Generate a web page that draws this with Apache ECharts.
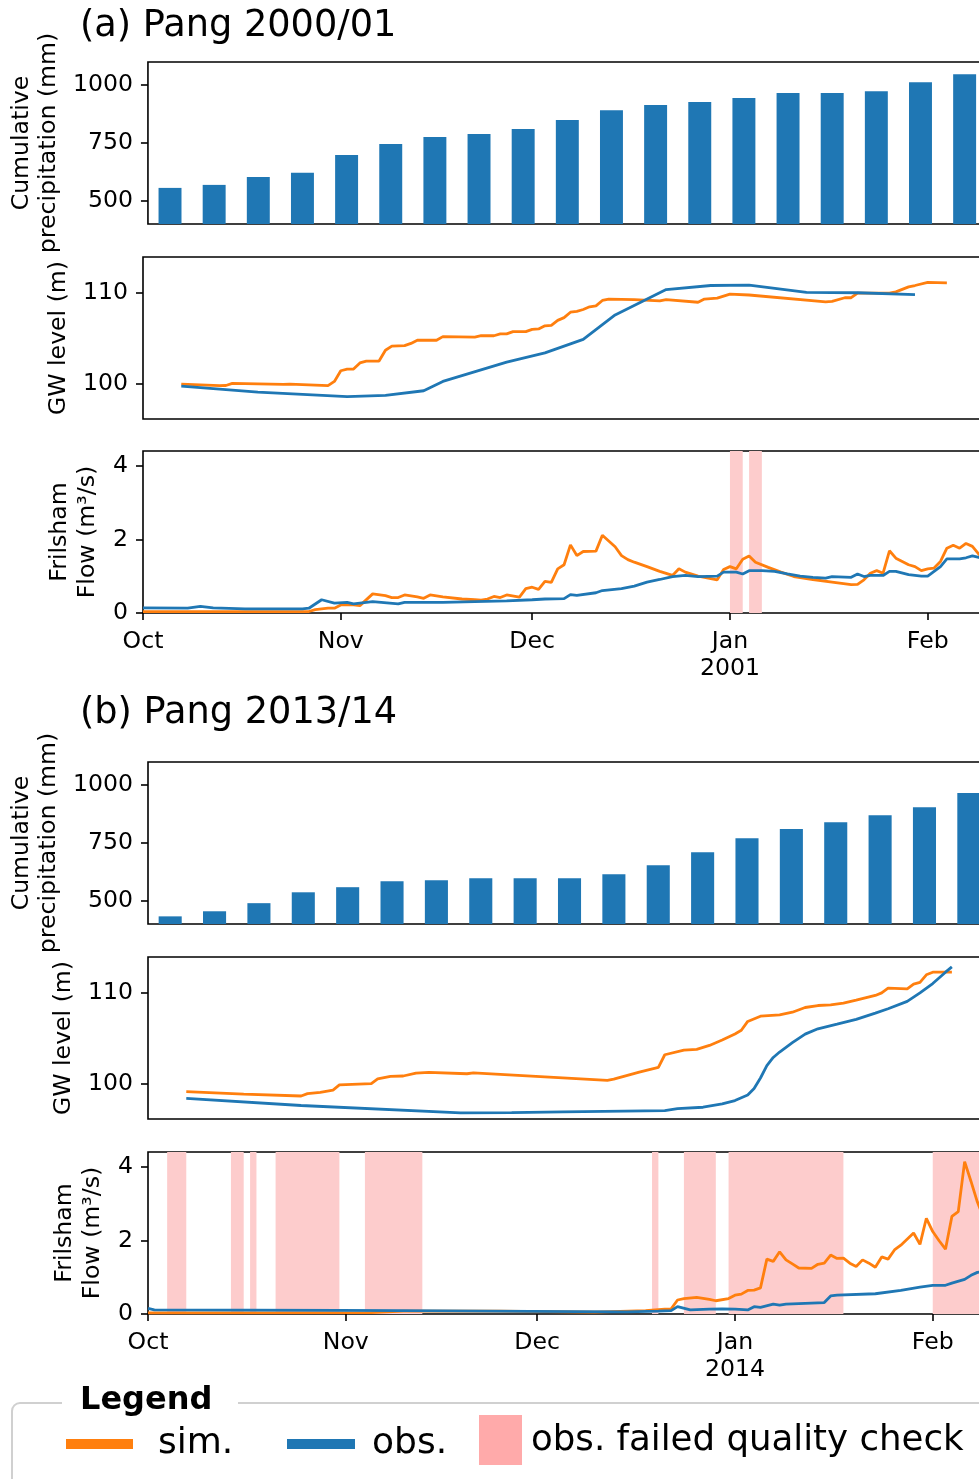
<!DOCTYPE html>
<html>
<head>
<meta charset="utf-8">
<script src="https://cdn.jsdelivr.net/npm/echarts@6/dist/echarts.min.js"></script>
<style>
html,body{margin:0;padding:0;overflow:hidden;background:#fff;}
#c{width:1140px;height:1479px;}
</style>
</head>
<body>
<div id="c"></div>
<script>
// ---------------- DATA ----------------
const weekCats = ['W1','W2','W3','W4','W5','W6','W7','W8','W9','W10','W11','W12','W13','W14','W15','W16','W17','W18','W19','W20','W21','W22'];
const precipA = [556, 569, 603, 621, 698, 746, 776, 789, 810, 849, 892, 914, 927, 944, 966, 966, 974, 1013, 1047];
const precipB = [433, 455, 490, 537, 559, 585, 589, 598, 598, 598, 615, 654, 710, 771, 810, 840, 870, 905, 966];

const precipTicks = [500, 750, 1000];
const gwTicks = [100, 110];
const flowTicks = [0, 2, 4];
const monthTicksA = ['2000-10-01', '2000-11-01', '2000-12-01', '2001-01-01', '2001-02-01'];
const monthTicksB = ['2013-10-01', '2013-11-01', '2013-12-01', '2014-01-01', '2014-02-01'];
const rangeA = ['2000-10-01', '2001-03-03'];
const rangeB = ['2013-10-01', '2014-03-03'];

const gwSimA = [
 ['2000-10-07',99.96],['2000-10-13',99.78],['2000-10-14',99.80],['2000-10-15',100.03],['2000-10-23',99.92],
 ['2000-10-24',99.95],['2000-10-30',99.78],['2000-10-31',100.25],['2000-11-01',101.43],['2000-11-02',101.60],
 ['2000-11-03',101.62],['2000-11-04',102.30],['2000-11-05',102.50],['2000-11-07',102.50],['2000-11-08',103.70],
 ['2000-11-09',104.15],['2000-11-11',104.20],['2000-11-12',104.45],['2000-11-13',104.80],['2000-11-16',104.80],
 ['2000-11-17',105.20],['2000-11-22',105.15],['2000-11-23',105.30],['2000-11-25',105.30],['2000-11-26',105.50],
 ['2000-11-27',105.50],['2000-11-28',105.75],['2000-11-30',105.75],['2000-12-01',106.00],['2000-12-02',106.05],
 ['2000-12-03',106.40],['2000-12-04',106.45],['2000-12-05',107.00],['2000-12-06',107.30],['2000-12-07',107.90],
 ['2000-12-08',108.00],['2000-12-09',108.20],['2000-12-10',108.50],['2000-12-11',108.60],['2000-12-12',109.20],
 ['2000-12-13',109.35],['2000-12-17',109.30],['2000-12-21',109.15],['2000-12-22',109.30],['2000-12-27',109.00],
 ['2000-12-28',109.35],['2000-12-30',109.45],['2001-01-01',109.90],['2001-01-04',109.80],['2001-01-16',109.05],
 ['2001-01-17',109.10],['2001-01-19',109.50],['2001-01-20',109.50],['2001-01-21',110.00],['2001-01-26',110.00],
 ['2001-01-27',110.15],['2001-01-29',110.70],['2001-01-30',110.85],['2001-02-01',111.20],['2001-02-04',111.15]
];
const gwObsA = [
 ['2000-10-07',99.74],['2000-10-19',99.07],['2000-11-02',98.57],['2000-11-08',98.71],['2000-11-14',99.22],
 ['2000-11-17',100.25],['2000-11-27',102.38],['2000-12-03',103.40],['2000-12-09',104.90],['2000-12-14',107.60],
 ['2000-12-18',109.00],['2000-12-22',110.40],['2000-12-29',110.85],['2001-01-04',110.90],['2001-01-13',110.10],
 ['2001-01-21',110.05],['2001-01-30',109.85]
];
const flowSimA = [
 ['2000-10-01',0.04],['2000-10-27',0.04],['2000-10-28',0.09],['2000-10-30',0.13],['2000-10-31',0.13],
 ['2000-11-01',0.22],['2000-11-03',0.22],['2000-11-04',0.20],['2000-11-06',0.52],['2000-11-08',0.47],
 ['2000-11-09',0.42],['2000-11-10',0.42],['2000-11-11',0.49],['2000-11-13',0.44],['2000-11-14',0.40],
 ['2000-11-15',0.49],['2000-11-17',0.44],['2000-11-20',0.38],['2000-11-22',0.36],['2000-11-23',0.35],
 ['2000-11-24',0.38],['2000-11-25',0.45],['2000-11-26',0.42],['2000-11-27',0.49],['2000-11-29',0.43],
 ['2000-11-30',0.66],['2000-12-01',0.70],['2000-12-02',0.64],['2000-12-03',0.86],['2000-12-04',0.83],
 ['2000-12-05',1.20],['2000-12-06',1.31],['2000-12-07',1.85],['2000-12-08',1.56],['2000-12-09',1.67],
 ['2000-12-11',1.68],['2000-12-12',2.11],['2000-12-14',1.80],['2000-12-15',1.56],['2000-12-16',1.45],
 ['2000-12-17',1.38],['2000-12-19',1.26],['2000-12-21',1.13],['2000-12-23',1.02],['2000-12-24',1.20],
 ['2000-12-25',1.11],['2000-12-27',1.00],['2000-12-30',0.90],['2000-12-31',1.18],['2001-01-01',1.26],
 ['2001-01-02',1.20],['2001-01-03',1.46],['2001-01-04',1.55],['2001-01-05',1.38],['2001-01-07',1.24],
 ['2001-01-09',1.11],['2001-01-11',0.99],['2001-01-14',0.91],['2001-01-17',0.84],['2001-01-20',0.77],
 ['2001-01-21',0.78],['2001-01-22',0.90],['2001-01-23',1.08],['2001-01-24',1.15],['2001-01-25',1.08],
 ['2001-01-26',1.69],['2001-01-27',1.49],['2001-01-29',1.31],['2001-01-30',1.26],['2001-01-31',1.15],
 ['2001-02-01',1.20],['2001-02-02',1.22],['2001-02-03',1.40],['2001-02-04',1.76],['2001-02-05',1.84],
 ['2001-02-06',1.76],['2001-02-07',1.89],['2001-02-08',1.81],['2001-02-09',1.60],['2001-02-10',1.45]
];
const flowObsA = [
 ['2000-10-01',0.14],['2000-10-08',0.13],['2000-10-10',0.18],['2000-10-12',0.14],['2000-10-17',0.11],
 ['2000-10-26',0.11],['2000-10-27',0.13],['2000-10-29',0.36],['2000-10-31',0.27],['2000-11-02',0.29],
 ['2000-11-03',0.25],['2000-11-06',0.31],['2000-11-10',0.25],['2000-11-11',0.29],['2000-11-17',0.29],
 ['2000-11-22',0.31],['2000-11-27',0.33],['2000-12-01',0.36],['2000-12-03',0.38],['2000-12-06',0.39],
 ['2000-12-07',0.50],['2000-12-08',0.48],['2000-12-11',0.55],['2000-12-12',0.61],['2000-12-15',0.66],
 ['2000-12-17',0.73],['2000-12-19',0.84],['2000-12-21',0.91],['2000-12-23',0.99],['2000-12-25',1.02],
 ['2000-12-27',0.99],['2000-12-30',1.00],['2000-12-31',1.11],['2001-01-02',1.11],['2001-01-03',1.06],
 ['2001-01-04',1.15],['2001-01-06',1.15],['2001-01-08',1.13],['2001-01-10',1.06],['2001-01-12',1.00],
 ['2001-01-14',0.97],['2001-01-16',0.95],['2001-01-17',0.99],['2001-01-20',0.97],['2001-01-21',1.06],
 ['2001-01-22',0.99],['2001-01-23',1.02],['2001-01-25',1.02],['2001-01-26',1.13],['2001-01-27',1.13],
 ['2001-01-29',1.04],['2001-01-31',1.00],['2001-02-01',1.00],['2001-02-02',1.13],['2001-02-03',1.26],
 ['2001-02-04',1.47],['2001-02-06',1.47],['2001-02-07',1.50],['2001-02-08',1.55],['2001-02-09',1.51],
 ['2001-02-10',1.45]
];
const qcA = [['2001-01-01','2001-01-03'],['2001-01-04','2001-01-06']];

const gwSimB = [
 ['2013-10-07',99.13],['2013-10-16',98.85],['2013-10-25',98.64],['2013-10-26',98.90],['2013-10-28',99.05],
 ['2013-10-30',99.30],['2013-10-31',99.86],['2013-11-05',100.00],['2013-11-06',100.52],['2013-11-08',100.80],
 ['2013-11-10',100.85],['2013-11-12',101.18],['2013-11-14',101.25],['2013-11-20',101.10],['2013-11-21',101.20],
 ['2013-12-12',100.37],['2013-12-13',100.50],['2013-12-15',100.90],['2013-12-17',101.29],['2013-12-20',101.81],
 ['2013-12-21',103.20],['2013-12-24',103.72],['2013-12-26',103.80],['2013-12-28',104.23],['2013-12-30',104.82],
 ['2014-01-01',105.50],['2014-01-02',105.90],['2014-01-03',106.88],['2014-01-05',107.46],['2014-01-08',107.60],
 ['2014-01-10',107.90],['2014-01-12',108.42],['2014-01-14',108.64],['2014-01-16',108.70],['2014-01-18',108.90],
 ['2014-01-20',109.23],['2014-01-23',109.75],['2014-01-24',110.04],['2014-01-25',110.55],['2014-01-28',110.48],
 ['2014-01-29',111.00],['2014-01-30',111.20],['2014-01-31',112.03],['2014-02-01',112.32],['2014-02-04',112.32]
];
const gwObsB = [
 ['2013-10-07',98.39],['2013-10-25',97.59],['2013-11-19',96.77],['2013-11-27',96.80],['2013-12-05',96.88],
 ['2013-12-21',97.03],['2013-12-23',97.25],['2013-12-27',97.40],['2013-12-30',97.76],['2014-01-01',98.14],
 ['2014-01-02',98.45],['2014-01-03',98.75],['2014-01-04',99.46],['2014-01-05',100.63],['2014-01-06',102.00],
 ['2014-01-07',102.90],['2014-01-08',103.50],['2014-01-10',104.53],['2014-01-12',105.48],['2014-01-14',106.07],
 ['2014-01-17',106.58],['2014-01-20',107.10],['2014-01-23',107.80],['2014-01-25',108.28],['2014-01-28',109.10],
 ['2014-01-30',110.04],['2014-02-01',111.07],['2014-02-03',112.32],['2014-02-04',112.90]
];
const flowSimB = [
 ['2013-10-01',0.03],['2013-11-05',0.04],['2013-11-10',0.08],['2013-11-25',0.08],['2013-12-10',0.05],
 ['2013-12-18',0.09],['2013-12-21',0.13],['2013-12-22',0.14],['2013-12-23',0.38],['2013-12-24',0.42],
 ['2013-12-26',0.45],['2013-12-28',0.40],['2013-12-29',0.36],['2013-12-31',0.42],['2014-01-01',0.51],
 ['2014-01-02',0.54],['2014-01-03',0.64],['2014-01-04',0.65],['2014-01-05',0.71],['2014-01-06',1.49],
 ['2014-01-07',1.43],['2014-01-08',1.69],['2014-01-09',1.47],['2014-01-10',1.36],['2014-01-11',1.25],
 ['2014-01-13',1.24],['2014-01-14',1.35],['2014-01-15',1.38],['2014-01-16',1.60],['2014-01-17',1.51],
 ['2014-01-18',1.52],['2014-01-19',1.38],['2014-01-20',1.29],['2014-01-21',1.47],['2014-01-22',1.38],
 ['2014-01-23',1.27],['2014-01-24',1.55],['2014-01-25',1.49],['2014-01-26',1.74],['2014-01-27',1.87],
 ['2014-01-29',2.20],['2014-01-30',1.89],['2014-01-31',2.60],['2014-02-01',2.24],['2014-02-02',1.99],
 ['2014-02-03',1.76],['2014-02-04',2.65],['2014-02-05',2.78],['2014-02-06',4.14],['2014-02-07',3.60],
 ['2014-02-08',3.04],['2014-02-09',2.60]
];
const flowObsB = [
 ['2013-10-01',0.15],['2013-10-02',0.11],['2013-10-31',0.10],['2013-11-10',0.09],['2013-11-30',0.07],
 ['2013-12-15',0.06],['2013-12-20',0.08],['2013-12-22',0.09],['2013-12-23',0.20],['2013-12-25',0.11],
 ['2013-12-28',0.13],['2013-12-30',0.14],['2014-01-01',0.13],['2014-01-03',0.11],['2014-01-04',0.20],
 ['2014-01-05',0.18],['2014-01-07',0.27],['2014-01-08',0.24],['2014-01-09',0.27],['2014-01-15',0.31],
 ['2014-01-16',0.49],['2014-01-17',0.51],['2014-01-23',0.55],['2014-01-27',0.64],['2014-01-30',0.73],
 ['2014-02-01',0.78],['2014-02-03',0.78],['2014-02-04',0.84],['2014-02-06',0.94],['2014-02-07',1.05],
 ['2014-02-08',1.13],['2014-02-10',1.18]
];
const qcB = [
 ['2013-10-04','2013-10-07'],['2013-10-14','2013-10-16'],['2013-10-17','2013-10-18'],['2013-10-21','2013-10-31'],
 ['2013-11-04','2013-11-13'],['2013-12-19','2013-12-20'],['2013-12-24','2013-12-29'],['2013-12-31','2014-01-18'],
 ['2014-02-01','2014-03-03']
];

// ---------------- STYLE / LAYOUT ----------------
const FONT = 'DejaVu Sans';
const FS = 23.6;
const ORANGE = '#ff7f0e', BLUE = '#1f77b4', QC = '#fdcccc', QC_LEG = '#ffaaaa';
const PXDAY = 6.38, NDAYS = 153;
const W = PXDAY * NDAYS;
const H = 162;
const MONTHS = ['Jan','Feb','Mar','Apr','May','Jun','Jul','Aug','Sep','Oct','Nov','Dec'];
const ts = s => Date.parse(s + 'T00:00:00Z');
const toXY = arr => arr.map(p => [ts(p[0]), p[1]]);

const panels = [
  {left: 143, tops: [62, 257, 451], range: rangeA, months: monthTicksA, precip: precipA, gwSim: gwSimA, gwObs: gwObsA, flowSim: flowSimA, flowObs: flowObsA, qc: qcA},
  {left: 148, tops: [762, 957, 1152], range: rangeB, months: monthTicksB, precip: precipB, gwSim: gwSimB, gwObs: gwObsB, flowSim: flowSimB, flowObs: flowObsB, qc: qcB}
];

const tickLabel = {fontFamily: FONT, fontSize: FS, color: '#000', margin: 15, padding: [4, 0, 0, 0], formatter: v => String(v)};
const tickStyle = {show: true, length: 7, lineStyle: {color: '#000', width: 1.6}};
const nameStyle = {fontFamily: FONT, fontSize: FS, color: '#000', lineHeight: 27};

const grid = [], xAxis = [], yAxis = [], series = [];
panels.forEach((p, pi) => {
  p.tops.forEach(t => grid.push({left: p.left, top: t, width: W, height: H, show: true,
    borderColor: '#000', borderWidth: 1.6, backgroundColor: 'rgba(0,0,0,0)', containLabel: false}));
  const g0 = pi * 3;
  const xmin = ts(p.range[0]), xmax = ts(p.range[1]);
  const monthVals = p.months.map(ts);
  xAxis.push({type: 'category', gridIndex: g0, data: weekCats, boundaryGap: true, show: false});
  xAxis.push({type: 'value', gridIndex: g0 + 1, min: xmin, max: xmax, show: false, splitLine: {show: false}});
  xAxis.push({type: 'value', gridIndex: g0 + 2, min: xmin, max: xmax,
    axisLine: {show: false}, splitLine: {show: false},
    axisTick: Object.assign({customValues: monthVals}, tickStyle),
    axisLabel: {customValues: monthVals, fontFamily: FONT, fontSize: FS, color: '#000', lineHeight: 27, margin: 15,
      formatter: v => { const d = new Date(v); const m = MONTHS[d.getUTCMonth()]; return d.getUTCMonth() === 0 ? m + '\n' + d.getUTCFullYear() : m; }}
  });
  yAxis.push({type: 'value', gridIndex: g0, min: 400, max: 1100, splitLine: {show: false}, axisLine: {show: false},
    axisTick: Object.assign({customValues: precipTicks}, tickStyle),
    axisLabel: Object.assign({customValues: precipTicks}, tickLabel),
    name: 'Cumulative\nprecipitation (mm)', nameLocation: 'middle', nameRotate: 90, nameGap: 83, nameTextStyle: nameStyle});
  yAxis.push({type: 'value', gridIndex: g0 + 1, min: 96.1, max: 114, splitLine: {show: false}, axisLine: {show: false},
    axisTick: Object.assign({customValues: gwTicks}, tickStyle),
    axisLabel: Object.assign({customValues: gwTicks}, tickLabel),
    name: 'GW level (m)', nameLocation: 'middle', nameRotate: 90, nameGap: 69, nameTextStyle: nameStyle});
  yAxis.push({type: 'value', gridIndex: g0 + 2, min: 0, max: 4.4, splitLine: {show: false}, axisLine: {show: false},
    axisTick: Object.assign({customValues: flowTicks}, tickStyle),
    axisLabel: Object.assign({customValues: flowTicks}, tickLabel),
    name: 'Frilsham\nFlow (m³/s)', nameLocation: 'middle', nameRotate: 90, nameGap: 40,
    nameTextStyle: Object.assign({}, nameStyle, {lineHeight: 28})});

  series.push({type: 'bar', xAxisIndex: g0, yAxisIndex: g0, data: p.precip, barWidth: '52%',
    itemStyle: {color: BLUE}, clip: true});
  const lineBase = {type: 'line', showSymbol: false, symbol: 'none', z: 3, clip: true};
  series.push(Object.assign({}, lineBase, {name: 'sim.', xAxisIndex: g0 + 1, yAxisIndex: g0 + 1, data: toXY(p.gwSim),
    lineStyle: {color: ORANGE, width: 2.8}, itemStyle: {color: ORANGE}}));
  series.push(Object.assign({}, lineBase, {name: 'obs.', xAxisIndex: g0 + 1, yAxisIndex: g0 + 1, data: toXY(p.gwObs),
    lineStyle: {color: BLUE, width: 2.8}, itemStyle: {color: BLUE}}));
  series.push({type: 'line', name: 'obs. failed quality check', xAxisIndex: g0 + 2, yAxisIndex: g0 + 2, data: [], z: 1,
    markArea: {silent: true, itemStyle: {color: QC}, data: p.qc.map(r => [{xAxis: ts(r[0])}, {xAxis: ts(r[1])}])}});
  series.push(Object.assign({}, lineBase, {name: 'sim.', xAxisIndex: g0 + 2, yAxisIndex: g0 + 2, data: toXY(p.flowSim),
    lineStyle: {color: ORANGE, width: 2.8}, itemStyle: {color: ORANGE}}));
  series.push(Object.assign({}, lineBase, {name: 'obs.', xAxisIndex: g0 + 2, yAxisIndex: g0 + 2, data: toXY(p.flowObs),
    lineStyle: {color: BLUE, width: 2.8}, itemStyle: {color: BLUE}}));
});

const txt = (x, y, text, size, weight) => ({type: 'text', x: x, y: y, z: 10,
  style: {text: text, fontFamily: FONT, fontSize: size, fontWeight: weight || 'normal', fill: '#000', align: 'left', verticalAlign: 'middle'}});

const graphic = [
  txt(80, 26, '(a) Pang 2000/01', 36.7),
  txt(80, 713, '(b) Pang 2013/14', 36.7),
  {type: 'rect', z: 5, shape: {x: 12, y: 1403, width: 1300, height: 200, r: 8}, style: {fill: '#fff', stroke: '#d0d0d0', lineWidth: 2}},
  {type: 'rect', z: 6, shape: {x: 62, y: 1388, width: 176, height: 30}, style: {fill: '#fff'}},
  txt(80, 1401, 'Legend', 32, 'bold'),
  {type: 'rect', z: 10, shape: {x: 66, y: 1439, width: 67, height: 10}, style: {fill: ORANGE}},
  txt(158, 1444, 'sim.', 36),
  {type: 'rect', z: 10, shape: {x: 287, y: 1439, width: 68, height: 10}, style: {fill: BLUE}},
  txt(372, 1444, 'obs.', 36),
  {type: 'rect', z: 10, shape: {x: 479, y: 1415, width: 43, height: 50}, style: {fill: QC_LEG}},
  txt(531, 1441, 'obs. failed quality check', 35.6)
];

const chart = echarts.init(document.getElementById('c'), null, {renderer: 'canvas'});
chart.setOption({
  animation: false,
  backgroundColor: '#fff',
  textStyle: {fontFamily: FONT},
  grid: grid, xAxis: xAxis, yAxis: yAxis, series: series, graphic: graphic
});
</script>
</body>
</html>
